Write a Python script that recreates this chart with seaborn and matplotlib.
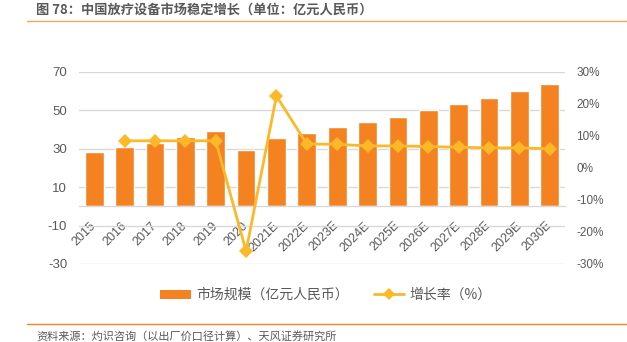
import numpy as np
import pandas as pd
import matplotlib
matplotlib.use("Agg")
import matplotlib.pyplot as plt
from matplotlib.patches import Patch
from matplotlib.lines import Line2D
import seaborn as sns

# Market size (100 million RMB) and year-on-year growth (%)
years = ["2015", "2016", "2017", "2018", "2019", "2020", "2021E", "2022E",
         "2023E", "2024E", "2025E", "2026E", "2027E", "2028E", "2029E", "2030E"]
market_size = [28.4, 30.8, 33.2, 36.2, 39.3, 29.3, 35.7, 38.3,
               41.1, 44.0, 46.8, 50.1, 53.4, 56.6, 60.1, 63.5]
growth_pct = [np.nan, 8.5, 8.5, 8.5, 8.5, -26.0, 22.5, 7.5,
              7.4, 6.9, 6.9, 6.7, 6.5, 6.3, 6.3, 6.0]

left_ticks = [-30, -10, 10, 30, 50, 70]
right_ticks = [-30, -20, -10, 0, 10, 20, 30]

title = "图 78：中国放疗设备市场稳定增长（单位：亿元人民币）"
source = "资料来源：灼识咨询（以出厂价口径计算）、天风证券研究所"
bar_label = "市场规模（亿元人民币）"
line_label = "增长率（%）"

BAR_COLOR = "#F58220"
LINE_COLOR = "#FBB829"
RULE_COLOR = "#F4A460"
TEXT_COLOR = "#595959"
GRID_COLOR = "#D9D9D9"

sns.set_theme(style="white")
plt.rcParams["font.family"] = ["Noto Sans CJK SC", "DejaVu Sans"]
plt.rcParams["axes.unicode_minus"] = False

df = pd.DataFrame({"year": years, "size": market_size,
                   "growth": growth_pct, "pos": np.arange(len(years))})

fig = plt.figure(figsize=(6.27, 3.42), dpi=100)
ax = fig.add_axes([79 / 627, 1 - 264 / 342, (565 - 79) / 627, (264 - 72) / 342])

sns.barplot(data=df, x="year", y="size", color=BAR_COLOR, saturation=1,
            width=0.62, ax=ax, zorder=2)
ax.set_ylim(-30, 70)
ax.set_xlim(-0.5, len(years) - 0.5)
ax.set_yticks(left_ticks)
ax.set_xlabel("")
ax.set_ylabel("")
ax.yaxis.grid(True, color=GRID_COLOR, linewidth=1)
ax.set_axisbelow(True)
for side in ["left", "right", "top"]:
    ax.spines[side].set_visible(False)
ax.spines["bottom"].set_position(("data", 0))
ax.spines["bottom"].set_color(GRID_COLOR)
ax.spines["bottom"].set_linewidth(1)
ax.tick_params(axis="both", length=0)
ax.tick_params(axis="y", pad=8.5, labelsize=9.5, labelcolor=TEXT_COLOR)
ax.tick_params(axis="x", pad=12.5, labelsize=9, labelcolor=TEXT_COLOR)
for lbl in ax.get_yticklabels():
    lbl.set_family(["Liberation Sans", "DejaVu Sans"])
for lbl in ax.get_xticklabels():
    lbl.set_family(["Liberation Sans", "DejaVu Sans"])
    lbl.set_rotation(45)
    lbl.set_ha("right")
    lbl.set_va("center")
    lbl.set_rotation_mode("anchor")

ax2 = ax.twinx()
sns.lineplot(data=df, x="pos", y="growth", color=LINE_COLOR, linewidth=2,
             marker="D", markersize=7.5, markeredgewidth=0, ax=ax2, zorder=3)
ax2.set_ylim(-30, 30)
ax2.set_xlim(-0.5, len(years) - 0.5)
ax2.set_yticks(right_ticks)
ax2.set_yticklabels([f"{t}%" for t in right_ticks])
ax2.set_xlabel("")
ax2.set_ylabel("")
for side in ["left", "right", "top", "bottom"]:
    ax2.spines[side].set_visible(False)
ax2.tick_params(axis="y", length=0, pad=8, labelsize=8.5, labelcolor=TEXT_COLOR)
for lbl in ax2.get_yticklabels():
    lbl.set_family(["Liberation Sans", "DejaVu Sans"])

# Header and footer
fig.text(36 / 627, 1 - 10 / 342, title, fontsize=9.5, fontweight="bold",
         color=TEXT_COLOR, ha="left", va="center")
fig.add_artist(Line2D([27 / 627, 1], [1 - 21 / 342] * 2, color=RULE_COLOR, linewidth=1))
fig.add_artist(Line2D([27 / 627, 1], [1 - 324 / 342] * 2, color=BAR_COLOR, linewidth=1))
fig.text(36 / 627, 1 - 336 / 342, source, fontsize=8, color=TEXT_COLOR,
         ha="left", va="center")

handles = [Patch(facecolor=BAR_COLOR, edgecolor="none"),
           Line2D([], [], color=LINE_COLOR, linewidth=2, marker="D",
                  markersize=6, markeredgewidth=0)]
fig.legend(handles, [bar_label, line_label], loc="center",
           bbox_to_anchor=(0.52, 1 - 295 / 342), ncol=2, frameon=False,
           fontsize=10, handlelength=2.2, handleheight=0.6, columnspacing=1.8,
           handletextpad=0.4, labelcolor=TEXT_COLOR)

fig.savefig("out.png", dpi=100)
